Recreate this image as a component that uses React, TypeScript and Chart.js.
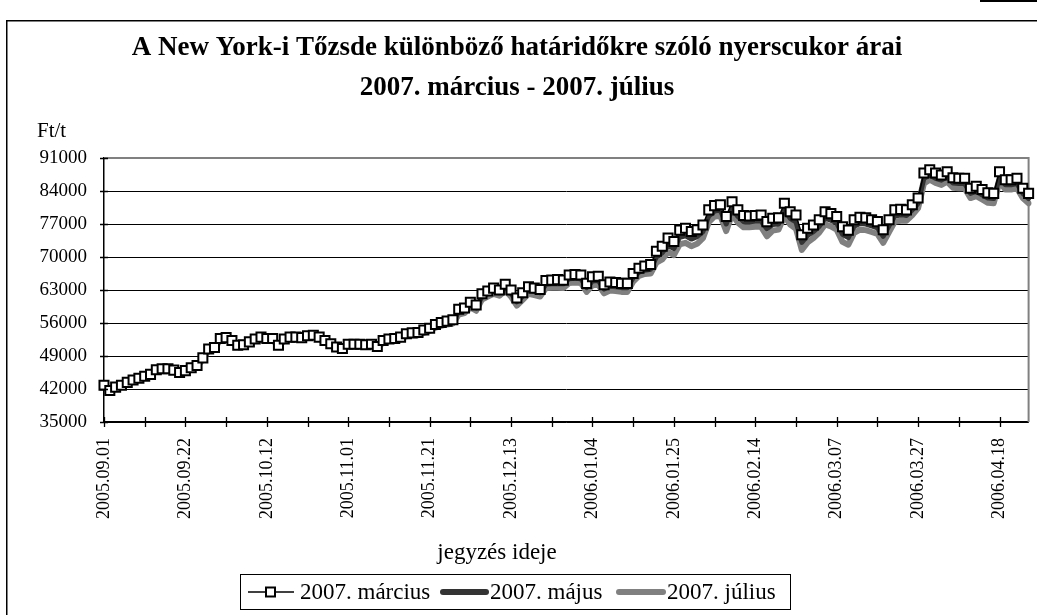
import React, { useEffect, useRef } from 'react';
import { Chart, registerables } from 'chart.js';

Chart.register(...registerables);

const FONT = "'Liberation Serif', 'Times New Roman', Times, serif";

const titleLines = [
  'A New York-i Tőzsde különböző határidőkre szóló nyerscukor árai',
  '2007. március - 2007. július',
];
const yAxisUnit = 'Ft/t';
const xAxisTitle = 'jegyzés ideje';
const seriesNames = ['2007. március', '2007. május', '2007. július'];

const yMin = 35000;
const yMax = 91000;
const yStep = 7000;
const labelEvery = 14;
const tickEvery = 7;

const dates: string[] = [
  '2005.09.01','2005.09.02','2005.09.06','2005.09.07','2005.09.08','2005.09.09','2005.09.12','2005.09.13','2005.09.14','2005.09.15',
  '2005.09.16','2005.09.19','2005.09.20','2005.09.21','2005.09.22','2005.09.23','2005.09.26','2005.09.27','2005.09.28','2005.09.29',
  '2005.09.30','2005.10.03','2005.10.04','2005.10.05','2005.10.06','2005.10.07','2005.10.10','2005.10.11','2005.10.12','2005.10.13',
  '2005.10.14','2005.10.17','2005.10.18','2005.10.19','2005.10.20','2005.10.21','2005.10.24','2005.10.25','2005.10.26','2005.10.27',
  '2005.10.28','2005.10.31','2005.11.01','2005.11.02','2005.11.03','2005.11.04','2005.11.07','2005.11.08','2005.11.09','2005.11.10',
  '2005.11.11','2005.11.14','2005.11.15','2005.11.16','2005.11.17','2005.11.18','2005.11.21','2005.11.22','2005.11.23','2005.11.28',
  '2005.11.29','2005.11.30','2005.12.01','2005.12.02','2005.12.05','2005.12.06','2005.12.07','2005.12.08','2005.12.09','2005.12.12',
  '2005.12.13','2005.12.14','2005.12.15','2005.12.16','2005.12.19','2005.12.20','2005.12.21','2005.12.22','2005.12.23','2005.12.27',
  '2005.12.28','2005.12.29','2005.12.30','2006.01.03','2006.01.04','2006.01.05','2006.01.06','2006.01.09','2006.01.10','2006.01.11',
  '2006.01.12','2006.01.13','2006.01.17','2006.01.18','2006.01.19','2006.01.20','2006.01.23','2006.01.24','2006.01.25','2006.01.26',
  '2006.01.27','2006.01.30','2006.01.31','2006.02.01','2006.02.02','2006.02.03','2006.02.06','2006.02.07','2006.02.08','2006.02.09',
  '2006.02.10','2006.02.13','2006.02.14','2006.02.15','2006.02.16','2006.02.17','2006.02.21','2006.02.22','2006.02.23','2006.02.24',
  '2006.02.27','2006.02.28','2006.03.01','2006.03.02','2006.03.03','2006.03.06','2006.03.07','2006.03.08','2006.03.09','2006.03.10',
  '2006.03.13','2006.03.14','2006.03.15','2006.03.16','2006.03.17','2006.03.20','2006.03.21','2006.03.22','2006.03.23','2006.03.24',
  '2006.03.27','2006.03.28','2006.03.29','2006.03.30','2006.03.31','2006.04.03','2006.04.04','2006.04.05','2006.04.06','2006.04.07',
  '2006.04.10','2006.04.11','2006.04.12','2006.04.13','2006.04.18','2006.04.19','2006.04.20','2006.04.21','2006.04.24','2006.04.25',
];

const marcius: number[] = [
  42800,41700,42400,42800,43400,43900,44300,44700,45100,46100,
  46300,46300,46000,45500,45900,46500,47000,48600,50500,50800,
  52700,52900,52300,51300,51400,52000,52600,53000,52700,52700,
  51300,52600,53000,53000,52900,53300,53400,53000,52300,51600,
  50900,50600,51500,51500,51500,51400,51500,51000,52300,52600,
  52700,53000,53700,53900,54000,54500,54900,55700,56100,56400,
  56700,58900,59200,60400,59800,62200,62800,63400,63000,64200,
  63000,61300,62400,63700,63400,63100,65000,65100,65200,65100,
  66200,66300,66200,64400,65800,65900,64100,64700,64600,64400,
  64400,66500,67600,68100,68400,71200,72300,74000,73300,75700,
  76100,75400,75800,76800,80000,80900,81100,78600,81700,80000,
  78800,78700,78800,78900,77500,78200,78300,81400,79600,78900,
  74700,76100,76800,77900,79600,79200,78600,76400,75700,77900,
  78400,78300,77900,77500,75800,77900,80000,80100,80000,81100,
  82500,87800,88500,87800,87400,88100,86800,86700,86700,84600,
  85000,84300,83600,83500,88100,86400,86400,86700,84600,83500,
];

const majus: number[] = [
  42700,41600,42300,42700,43300,43800,44200,44600,45000,46000,
  46200,46200,45900,45400,45800,46400,46900,48500,50400,50700,
  52600,52800,52200,51200,51300,51900,52500,52900,52600,52600,
  51200,52500,52900,52900,52800,53200,53300,52900,52200,51500,
  50800,50500,51400,51400,51400,51200,51300,50800,52100,52400,
  52500,52800,53500,53700,53700,54200,54600,55400,55800,56100,
  56300,58400,58700,59900,59200,61600,62200,62800,62400,63600,
  62300,60500,61700,63000,62700,62400,64200,64300,64400,64300,
  65400,65500,65400,63500,64900,65000,63200,63800,63700,63500,
  63500,65600,66800,67200,67400,70000,70900,72500,71800,74200,
  74500,73800,74300,75400,78700,79700,79900,77000,80300,78600,
  77500,77500,77600,77600,76000,76900,77000,80000,78200,77400,
  73100,74600,75400,76500,78200,77800,77200,74800,74100,76500,
  77100,77000,76600,76200,74400,76600,78700,78900,78800,80000,
  81400,86700,87400,86700,86300,87000,85700,85600,85600,83500,
  83900,83200,82500,82400,87000,85300,85300,85600,83500,82400,
];

const julius: number[] = [
  42600,41500,42200,42600,43200,43700,44100,44500,44900,45800,
  46000,46000,45700,45200,45600,46200,46700,48300,50200,50500,
  52400,52600,52000,51000,51100,51700,52300,52700,52400,52400,
  51000,52300,52700,52700,52600,53000,53100,52700,52000,51300,
  50600,50300,51200,51200,51200,51000,51100,50600,51900,52200,
  52200,52500,53200,53400,53400,53900,54300,55000,55400,55700,
  55900,57800,58100,59300,58600,61000,61600,62200,61800,62900,
  61600,59700,60900,62200,61900,61600,63400,63500,63500,63400,
  64500,64600,64500,62600,64000,64100,62300,62900,62800,62600,
  62600,64800,66000,66400,66500,68800,69500,71100,70400,72700,
  73000,72300,72800,74000,77400,78600,78700,75500,79000,77300,
  76300,76300,76400,76400,74400,75600,75800,78700,76900,76000,
  71500,73100,74000,75200,76900,76500,75800,73200,72600,75100,
  75800,75700,75300,74900,73000,75300,77500,77700,77700,78900,
  80400,85600,86400,85700,85300,86000,84700,84600,84600,82500,
  82900,82200,81500,81400,86000,84300,84300,84600,82500,81400,
];

const colMarcius = '#000000';
const colMajus = '#333333';
const colJulius = '#808080';

const decorPlugin = {
  id: 'decor',
  beforeDraw(chart: any) {
    const ctx = chart.ctx;
    ctx.save();
    ctx.fillStyle = '#ffffff';
    ctx.fillRect(0, 0, chart.width, chart.height);
    ctx.strokeStyle = '#000';
    ctx.lineWidth = 1.5;
    ctx.strokeRect(6.75, 20.75, 1100, 700);
    ctx.fillStyle = '#000';
    ctx.fillRect(980, 0, 57, 2);
    ctx.restore();
  },
  beforeDatasetsDraw(chart: any) {
    const { ctx, chartArea: a } = chart;
    ctx.save();
    ctx.strokeStyle = '#808080';
    ctx.lineWidth = 2;
    ctx.beginPath();
    ctx.moveTo(a.left, a.top);
    ctx.lineTo(a.right, a.top);
    ctx.lineTo(a.right, a.bottom);
    ctx.stroke();
    ctx.restore();
  },
  afterDraw(chart: any) {
    const { ctx, chartArea: a, scales } = chart;
    ctx.save();
    ctx.strokeStyle = '#000';
    ctx.lineWidth = 1.3;
    ctx.beginPath();
    for (let i = 0; i < dates.length; i += tickEvery) {
      const x = Math.round(scales.x.getPixelForValue(i)) + 0.5;
      ctx.moveTo(x, a.bottom - 5);
      ctx.lineTo(x, a.bottom + 5);
    }
    for (let v = yMin; v <= yMax; v += yStep) {
      const y = Math.round(scales.y.getPixelForValue(v)) + 0.5;
      ctx.moveTo(a.left - 4, y);
      ctx.lineTo(a.left + 4, y);
    }
    ctx.stroke();

    ctx.fillStyle = '#000';
    ctx.textAlign = 'center';
    ctx.textBaseline = 'middle';
    ctx.font = `bold 27px ${FONT}`;
    ctx.fillText(titleLines[0], 517, 48);
    ctx.fillText(titleLines[1], 517, 88);

    ctx.font = `21px ${FONT}`;
    ctx.textAlign = 'left';
    ctx.fillText(yAxisUnit, 37, 131);

    ctx.font = `23px ${FONT}`;
    ctx.textAlign = 'center';
    ctx.fillText(xAxisTitle, 497, 553);

    // legend
    const bx = 240.5, by = 574.5, bw = 550, bh = 35;
    ctx.lineWidth = 1;
    ctx.strokeStyle = '#000';
    ctx.strokeRect(bx, by, bw, bh);
    const ly = by + bh / 2;
    ctx.font = `23px ${FONT}`;
    ctx.textAlign = 'left';
    ctx.textBaseline = 'middle';
    ctx.strokeStyle = colMarcius;
    ctx.lineWidth = 1.5;
    ctx.beginPath();
    ctx.moveTo(248, ly);
    ctx.lineTo(294, ly);
    ctx.stroke();
    ctx.fillStyle = '#fff';
    ctx.lineWidth = 2;
    ctx.fillRect(266, ly - 4.5, 9, 9);
    ctx.strokeRect(266, ly - 4.5, 9, 9);
    ctx.fillStyle = '#000';
    ctx.fillText(seriesNames[0], 300, ly + 1);
    ctx.lineCap = 'round';
    ctx.strokeStyle = colMajus;
    ctx.lineWidth = 6;
    ctx.beginPath();
    ctx.moveTo(443, ly);
    ctx.lineTo(486, ly);
    ctx.stroke();
    ctx.fillText(seriesNames[1], 490, ly + 1);
    ctx.strokeStyle = colJulius;
    ctx.beginPath();
    ctx.moveTo(619, ly);
    ctx.lineTo(663, ly);
    ctx.stroke();
    ctx.fillText(seriesNames[2], 667, ly + 1);
    ctx.restore();
  },
};

export default function App() {
  const ref = useRef<HTMLCanvasElement | null>(null);

  useEffect(() => {
    if (!ref.current) return;
    const chart = new Chart(ref.current, {
      type: 'line',
      data: {
        labels: dates,
        datasets: [
          {
            label: seriesNames[0],
            data: marcius,
            borderColor: colMarcius,
            borderWidth: 1.5,
            pointStyle: 'rect',
            pointRadius: 6.4,
            pointBorderWidth: 2,
            pointBackgroundColor: '#ffffff',
            pointBorderColor: '#000000',
            tension: 0,
          },
          {
            label: seriesNames[1],
            data: majus,
            borderColor: colMajus,
            borderWidth: 5,
            pointRadius: 0,
            borderCapStyle: 'round',
            borderJoinStyle: 'round',
            tension: 0,
          },
          {
            label: seriesNames[2],
            data: julius,
            borderColor: colJulius,
            borderWidth: 6,
            pointRadius: 0,
            borderCapStyle: 'round',
            borderJoinStyle: 'round',
            tension: 0,
          },
        ],
      },
      options: {
        animation: false,
        responsive: false,
        devicePixelRatio: 1,
        layout: { padding: { left: 0, right: 4, top: 158, bottom: 0 } },
        plugins: {
          legend: { display: false },
          title: { display: false },
          tooltip: { enabled: false },
        },
        scales: {
          x: {
            type: 'category',
            offset: false,
            grid: { display: true, drawOnChartArea: false, drawTicks: false },
            border: { display: true, color: '#000', width: 1.5 },
            ticks: {
              autoSkip: false,
              maxRotation: 90,
              minRotation: 90,
              padding: 16,
              color: '#000',
              font: { family: FONT, size: 18 },
              callback: (_v: any, i: number) => (i % labelEvery === 0 ? dates[i] : ''),
            },
            afterFit: (s: any) => {
              s.height = 193;
              s.paddingLeft = 0;
              s.paddingRight = 0;
            },
          },
          y: {
            type: 'linear',
            min: yMin,
            max: yMax,
            grid: {
              drawTicks: false,
              color: (c: any) => (c.tick && c.tick.value === yMax ? 'rgba(0,0,0,0)' : '#000'),
              lineWidth: 1,
            },
            border: { display: true, color: '#000', width: 1.5 },
            ticks: {
              stepSize: yStep,
              padding: 17,
              color: '#000',
              font: { family: FONT, size: 19 },
              callback: (v: any) => String(v),
            },
            afterFit: (s: any) => {
              s.width = 104;
              s.paddingTop = 0;
              s.paddingBottom = 0;
            },
          },
        },
      },
      plugins: [decorPlugin],
    });
    return () => chart.destroy();
  }, []);

  return (
    <div style={{ position: 'absolute', left: 0, top: 0, width: 1037, height: 615, background: '#fff' }}>
      <canvas ref={ref} width={1037} height={615} style={{ width: 1037, height: 615, display: 'block' }} />
    </div>
  );
}
